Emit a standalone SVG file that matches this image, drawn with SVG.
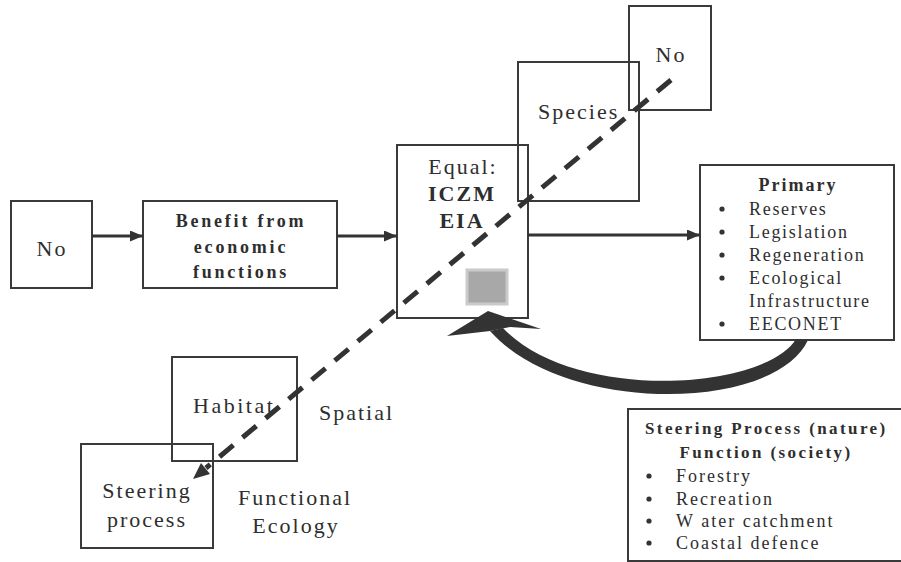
<svg xmlns="http://www.w3.org/2000/svg" width="901" height="562" viewBox="0 0 901 562">
<defs>
<style>
.box{fill:none;stroke:#3a3a3a;stroke-width:2}
.t{fill:#2e2e2e;font-size:22px;letter-spacing:2px}
.b{font-weight:bold}
.s18{font-size:18px}
.m{text-anchor:middle}
.conn{stroke:#333;stroke-width:3;fill:none}
</style>
<marker id="ah" viewBox="0 0 13 11" refX="13" refY="5.5" markerWidth="13" markerHeight="11" markerUnits="userSpaceOnUse" orient="auto">
<path d="M0,0 L13,5.5 L0,11 z" fill="#333"/>
</marker>
</defs>
<rect width="901" height="562" fill="#fff"/>
<g font-family="'Liberation Serif', 'Times New Roman', 'DejaVu Serif', serif">

<g id="no-left">
<rect class="box" x="11" y="201" width="81" height="87"/>
<text class="t m" x="52" y="256">No</text>
</g>

<g id="benefit">
<rect class="box" x="143" y="201" width="194" height="87"/>
<text class="t b s18 m" x="241" y="227" style="letter-spacing:2.8px">Benefit from</text>
<text class="t b s18 m" x="241" y="253" style="letter-spacing:2.8px">economic</text>
<text class="t b s18 m" x="241" y="278" style="letter-spacing:2.8px">functions</text>
</g>

<g id="species">
<rect class="box" x="518" y="62" width="121" height="139"/>
<text class="t" x="538" y="119">Species</text>
</g>

<g id="no-top">
<rect class="box" x="629" y="6" width="82" height="104"/>
<text class="t m" x="671" y="62">No</text>
</g>

<g id="equal">
<rect class="box" x="397" y="145" width="131" height="173"/>
<text class="t m" x="463" y="174">Equal:</text>
<text class="t b m" x="462" y="201">ICZM</text>
<text class="t b m" x="462" y="228">EIA</text>
<rect x="467" y="270" width="40" height="34" fill="#a8a8a8" stroke="#cacaca" stroke-width="3"/>
</g>

<g id="primary">
<rect class="box" x="700" y="165" width="194" height="175"/>
<text class="t b s18 m" x="798" y="191">Primary</text>
<g class="t s18" style="letter-spacing:1.7px">
<text x="749" y="215">Reserves</text>
<text x="749" y="238">Legislation</text>
<text x="749" y="261">Regeneration</text>
<text x="749" y="284">Ecological</text>
<text x="749" y="307">Infrastructure</text>
<text x="749" y="330">EECONET</text>
</g>
<g fill="#333">
<circle cx="722" cy="209" r="2.6"/>
<circle cx="722" cy="232" r="2.6"/>
<circle cx="722" cy="255" r="2.6"/>
<circle cx="722" cy="278" r="2.6"/>
<circle cx="722" cy="324" r="2.6"/>
</g>
</g>

<g id="steering-function">
<rect class="box" x="628" y="409" width="290" height="152"/>
<text class="t b" x="645" y="434" style="font-size:17px;letter-spacing:2.4px">Steering Process (nature)</text>
<text class="t b m" x="766" y="458" style="font-size:17px;letter-spacing:2.4px">Function (society)</text>
<g class="t s18">
<text x="676" y="482">Forestry</text>
<text x="676" y="505">Recreation</text>
<text x="676" y="527">W ater catchment</text>
<text x="676" y="549">Coastal defence</text>
</g>
<g fill="#333">
<circle cx="649" cy="476" r="2.6"/>
<circle cx="649" cy="499" r="2.6"/>
<circle cx="649" cy="521" r="2.6"/>
<circle cx="649" cy="543" r="2.6"/>
</g>
</g>

<g id="habitat">
<rect class="box" x="172" y="357" width="125" height="104"/>
<text class="t" x="193" y="413" style="letter-spacing:2.5px">Habitat</text>
</g>

<g id="steering-process">
<rect class="box" x="81" y="444" width="132" height="104"/>
<text class="t m" x="147" y="498">Steering</text>
<text class="t m" x="147" y="527">process</text>
</g>

<g id="labels">
<text class="t" x="319" y="420">Spatial</text>
<text class="t m" x="295" y="505">Functional</text>
<text class="t m" x="296" y="533">Ecology</text>
</g>
</g>

<g id="connectors">
<line class="conn" x1="92" y1="236" x2="143" y2="236" marker-end="url(#ah)"/>
<line class="conn" x1="337" y1="236" x2="397" y2="236" marker-end="url(#ah)"/>
<line class="conn" x1="528" y1="235" x2="700" y2="235" stroke-width="2.5" marker-end="url(#ah)"/>
<line x1="671" y1="80" x2="206" y2="468" stroke="#333" stroke-width="5" stroke-dasharray="18,12"/>
<polygon points="193,479 210,474 201,463" fill="#333"/>
<path d="M 796 339 C 765 390, 575 403, 503 328 L 490 331 C 565 415, 775 412, 808 340 Z" fill="#333"/>
<polygon points="488,311 541,329 510,327 490,331 447,336" fill="#333"/>
</g>
</svg>
